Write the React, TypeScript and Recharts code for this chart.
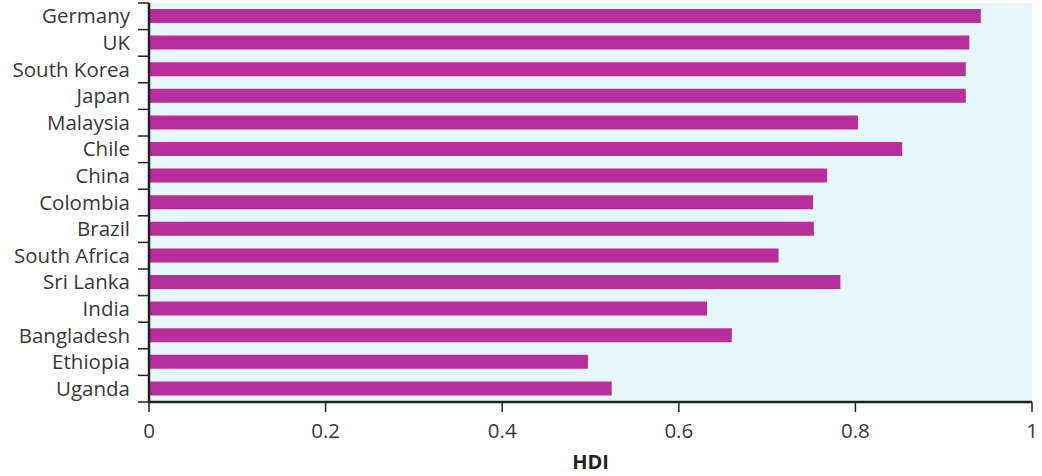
import { Bar, BarChart, CartesianGrid, XAxis, YAxis } from "recharts";

const countries = [
  "Germany",
  "UK",
  "South Korea",
  "Japan",
  "Malaysia",
  "Chile",
  "China",
  "Colombia",
  "Brazil",
  "South Africa",
  "Sri Lanka",
  "India",
  "Bangladesh",
  "Ethiopia",
  "Uganda",
];

const hdi = [
  0.942, 0.929, 0.925, 0.925, 0.803, 0.853, 0.768, 0.752, 0.753, 0.713, 0.783,
  0.632, 0.66, 0.497, 0.524,
];

const xTicks = [0, 0.2, 0.4, 0.6, 0.8, 1];

const data = countries.map((name, i) => ({ name, hdi: hdi[i] }));

const WIDTH = 1042;
const HEIGHT = 476;
const MARGIN = { top: 3, right: 10, bottom: 0, left: 0 };
const X_AXIS_HEIGHT = 74;
const PLOT_H = HEIGHT - MARGIN.top - MARGIN.bottom - X_AXIS_HEIGHT;
const BAND = PLOT_H / countries.length;

const TEXT = "#383838";
const FONT = "'Open Sans', sans-serif";

function CountryTick(props: any) {
  const { x, y, payload, index } = props;
  const axisX = x + 19;
  return (
    <g>
      <line x1={axisX - 11} x2={axisX} y1={y + BAND / 2} y2={y + BAND / 2} stroke="#222" strokeWidth={1.5} />
      {index === 0 && (
        <line x1={axisX - 11} x2={axisX} y1={y - BAND / 2} y2={y - BAND / 2} stroke="#222" strokeWidth={1.5} />
      )}
      <text x={x} y={y} dy="0.35em" textAnchor="end" fill={TEXT} fontSize={20.5} fontFamily={FONT}>
        {payload.value}
      </text>
    </g>
  );
}

export default function App() {
  return (
    <div style={{ position: "fixed", left: 0, top: 0, width: WIDTH, height: HEIGHT, background: "#fff" }}>
      <BarChart
        width={WIDTH}
        height={HEIGHT}
        data={data}
        layout="vertical"
        margin={MARGIN}
        barSize={14}
      >
        <CartesianGrid horizontal={false} vertical={false} fill="#e5f6fd" />
        <XAxis
          type="number"
          dataKey="hdi"
          domain={[0, 1]}
          ticks={xTicks}
          height={X_AXIS_HEIGHT}
          tickSize={10}
          tickMargin={11}
          stroke="#222"
          axisLine={{ stroke: "#222", strokeWidth: 2.5 }}
          tickLine={{ stroke: "#222", strokeWidth: 1.5 }}
          tick={{ fill: TEXT, fontSize: 20.5, fontFamily: FONT }}
          label={{
            value: "HDI",
            position: "insideBottom",
            offset: 7,
            fill: "#222",
            fontSize: 20,
            fontWeight: 700,
            fontFamily: FONT,
          }}
        />
        <YAxis
          type="category"
          dataKey="name"
          width={149}
          tickLine={false}
          tickSize={0}
          tickMargin={19}
          axisLine={{ stroke: "#222", strokeWidth: 2.5 }}
          tick={<CountryTick />}
          interval={0}
        />
        <Bar dataKey="hdi" fill="#b82e9b" isAnimationActive={false} />
      </BarChart>
    </div>
  );
}
